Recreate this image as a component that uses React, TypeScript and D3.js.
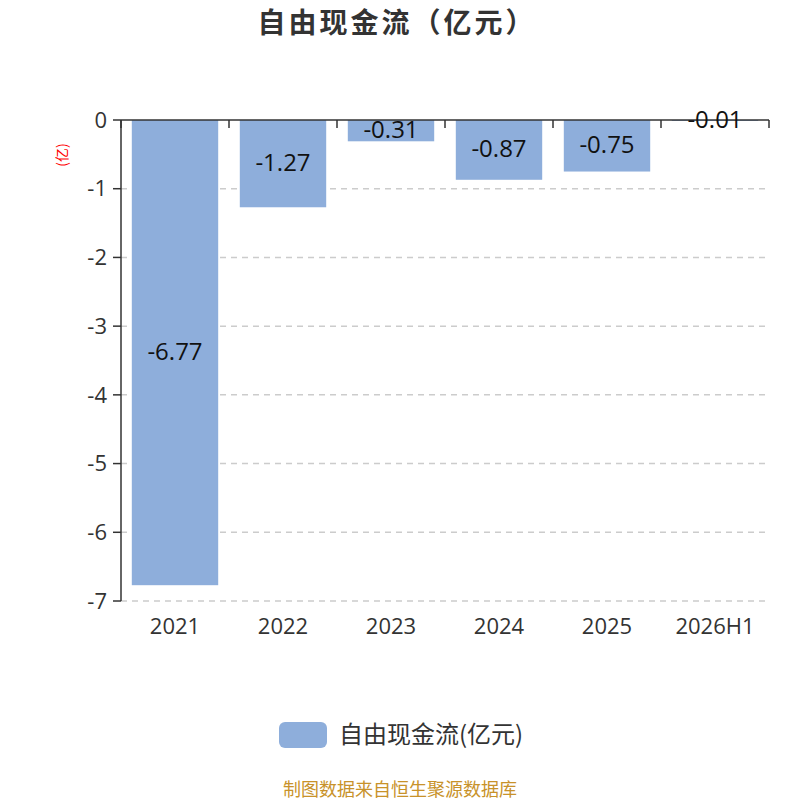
import React from "react";
import * as d3 from "d3";

const categories = ["2021", "2022", "2023", "2024", "2025", "2026H1"];
const values = [-6.77, -1.27, -0.31, -0.87, -0.75, -0.01];
const yTicks = [0, -1, -2, -3, -4, -5, -6, -7];
const title = "自由现金流（亿元）";
const legendLabel = "自由现金流(亿元)";
const unitLabel = "(亿)";
const footer = "制图数据来自恒生聚源数据库";

const W = 800;
const H = 800;
const left = 121;
const right = 769;
const top = 120;
const bottom = 601;
const font = "'Open Sans', 'Noto Sans CJK SC', sans-serif";

export default function App() {
  const x = d3.scaleBand<string>().domain(categories).range([left, right]).paddingInner(0.2).paddingOuter(0.1);
  const xb = d3.scaleBand<string>().domain(categories).range([left, right]);
  const y = d3.scaleLinear().domain([-7, 0]).range([bottom, top]);
  return (
    <svg width={W} height={H} style={{ position: "absolute", left: 0, top: 0, fontFamily: font }}>
      <rect width={W} height={H} fill="#fff" />
      <text x={397} y={23} dy="0.35em" textAnchor="middle" fontSize={28} letterSpacing={3} fontWeight="bold" fill="#333" fontFamily="'Noto Sans CJK SC', sans-serif">{title}</text>
      <text transform={`translate(62,155) rotate(-90)`} dy="0.35em" textAnchor="middle" fontSize={14} fill="#ff0000" fontFamily="'Noto Sans CJK SC', sans-serif">{unitLabel}</text>
      {yTicks.filter(t => t !== 0).map(t => (
        <line key={t} x1={left} x2={right} y1={y(t)} y2={y(t)} stroke="#ccc" strokeDasharray="6,5" strokeWidth={1.5} />
      ))}
      {categories.map((c, i) => {
        const v = values[i];
        const y0 = y(0), y1 = y(v);
        return (
          <rect key={c} x={x(c)} y={y0} width={x.bandwidth()} height={Math.max(y1 - y0, 1)} fill="#8eaedb" />
        );
      })}
      <line x1={left} x2={left} y1={top} y2={bottom} stroke="#333" strokeWidth={1.5} />
      {yTicks.map(t => (
        <g key={t}>
          <line x1={left - 8} x2={left} y1={y(t)} y2={y(t)} stroke="#333" strokeWidth={1.5} />
          <text x={left - 14} y={y(t)} dy="0.35em" textAnchor="end" fontSize={22} fill="#333">{t}</text>
        </g>
      ))}
      <line x1={left} x2={right} y1={y(0)} y2={y(0)} stroke="#333" strokeWidth={1.5} />
      {[...categories.map(c => xb(c) as number), right].map((px, i) => (
        <line key={i} x1={px} x2={px} y1={y(0)} y2={y(0) + 8} stroke="#333" strokeWidth={1.5} />
      ))}
      {categories.map((c) => (
        <text key={c} x={(xb(c) as number) + xb.bandwidth() / 2} y={626} dy="0.35em" textAnchor="middle" fontSize={22} fill="#333">{c}</text>
      ))}
      {categories.map((c, i) => {
        const v = values[i];
        const cy = (y(0) + y(v)) / 2;
        return (
          <text key={c} x={(x(c) as number) + x.bandwidth() / 2} y={cy - 1} dy="0.35em" textAnchor="middle" fontSize={24} fill="#111">{v.toFixed(2)}</text>
        );
      })}
      <rect x={279} y={722} width={48} height={26} rx={6} fill="#8eaedb" />
      <text x={339} y={735} dy="0.35em" fontSize={24} fill="#333" fontFamily="'Noto Sans CJK SC', sans-serif">{legendLabel}</text>
      <text x={400} y={790} dy="0.35em" textAnchor="middle" fontSize={18} fill="#c8922a" fontFamily="'Noto Sans CJK SC', sans-serif">{footer}</text>
    </svg>
  );
}
